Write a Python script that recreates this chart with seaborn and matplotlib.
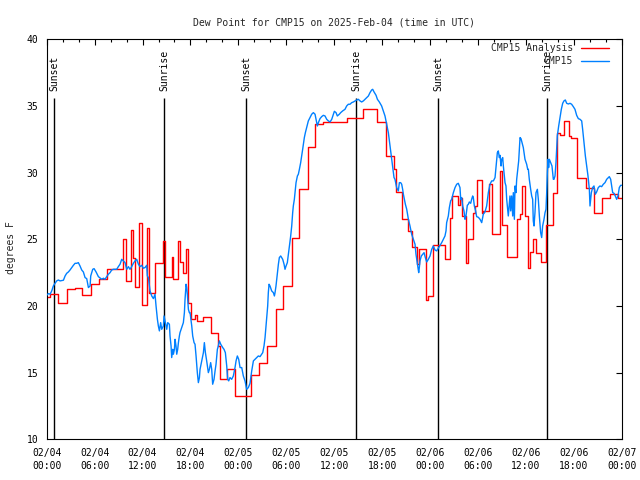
import numpy as np
import pandas as pd
import matplotlib
matplotlib.use("Agg")
import matplotlib.pyplot as plt
import matplotlib.dates as mdates
import seaborn as sns

sns.set_theme(style="white")
plt.rcParams["font.family"] = ["DejaVu Sans Mono"]

# hourly analysis (step series): hours after 2025-02-04 00:00 UTC, degrees F
red_hours = [0.0, 0.42, 1.46, 2.50, 3.55, 4.47, 5.51, 6.55, 7.60, 9.60,
             9.93, 10.56, 10.86, 11.06, 11.56, 11.90, 12.52, 12.86, 13.56, 14.61,
             14.82, 15.65, 15.86, 16.49, 16.69, 17.03, 17.50, 17.74, 18.03, 18.57,
             18.78, 19.53, 20.53, 21.49, 21.70, 22.54, 23.58, 25.60, 26.59, 27.63,
             28.67, 29.63, 30.68, 31.64, 32.68, 33.60, 34.64, 37.56, 38.61, 39.65,
             41.40, 42.49, 43.49, 43.74, 44.53, 45.28, 45.70, 46.33, 46.62, 47.50,
             47.70, 48.41, 49.87, 50.50, 50.79, 51.54, 51.75, 51.96, 52.50, 52.71,
             53.42, 53.63, 53.92, 54.47, 54.67, 55.38, 55.72, 56.76, 56.97, 57.60,
             58.85, 59.27, 59.56, 59.89, 60.31, 60.52, 60.93, 61.27, 61.85, 62.52,
             63.44, 63.94, 64.27, 64.77, 65.40, 65.61, 66.44, 67.49, 68.53, 69.49,
             70.53, 71.58, 72.0]
red_vals = [20.67, 20.93, 20.25, 21.25, 21.35, 20.85, 21.68, 22.0, 22.75, 25.05,
            21.85, 25.72, 23.6, 21.45, 26.2, 20.05, 25.83, 21.0, 23.2, 24.9,
            22.15, 23.7, 22.02, 24.9, 23.3, 22.45, 24.3, 20.25, 19.0, 19.3,
            18.9, 19.2, 18.0, 17.0, 14.5, 15.3, 13.25, 14.8, 15.75, 17.0,
            19.8, 21.5, 25.13, 28.75, 31.93, 33.63, 33.8, 34.08, 34.13, 34.8,
            33.8, 31.25, 30.3, 28.55, 26.5, 25.63, 24.45, 23.13, 24.3, 20.45,
            20.75, 24.55, 23.5, 26.63, 28.25, 27.55, 28.13, 26.75, 23.25, 25.0,
            27.0, 27.5, 29.43, 27.0, 27.13, 29.13, 25.38, 30.13, 26.08, 23.68,
            26.5, 26.88, 29.0, 26.75, 22.88, 24.08, 25.05, 24.0, 23.3, 26.08,
            28.5, 33.0, 32.8, 33.88, 32.75, 32.63, 29.63, 28.88, 27.0, 28.08,
            28.43, 28.13, 28.13]

# station observations
blue_hours = [0.00, 0.21, 0.42, 0.63, 0.83, 1.04, 1.25, 1.46, 1.67, 2.09,
              2.30, 2.50, 2.71, 2.92, 3.13, 3.34, 3.55, 3.76, 3.96, 4.17,
              4.38, 4.59, 4.80, 5.01, 5.22, 5.43, 5.51, 5.76, 5.93, 6.18,
              6.47, 6.89, 7.10, 7.30, 7.51, 7.72, 7.93, 8.14, 8.35, 8.76,
              8.97, 9.18, 9.39, 9.60, 9.81, 10.02, 10.23, 10.43, 10.64, 10.85,
              11.06, 11.27, 11.48, 11.69, 11.89, 12.10, 12.31, 12.52, 12.60, 12.73,
              12.94, 13.15, 13.36, 13.56, 13.69, 13.86, 13.98, 14.11, 14.27, 14.40,
              14.61, 14.69, 14.82, 14.94, 15.03, 15.15, 15.36, 15.44, 15.57, 15.65,
              15.78, 15.86, 15.99, 16.07, 16.19, 16.28, 16.40, 16.49, 16.61, 16.69,
              16.90, 17.11, 17.24, 17.32, 17.45, 17.53, 17.61, 17.74, 17.86, 17.95,
              18.16, 18.28, 18.45, 18.57, 18.70, 18.86, 18.99, 19.12, 19.20, 19.41,
              19.62, 19.74, 19.87, 20.03, 20.24, 20.37, 20.53, 20.66, 20.78, 20.95,
              21.08, 21.20, 21.37, 21.49, 21.62, 21.79, 22.04, 22.20, 22.37, 22.54,
              22.66, 22.79, 22.95, 23.16, 23.37, 23.58, 23.71, 23.87, 24.04, 24.21,
              24.42, 24.62, 24.83, 25.04, 25.25, 25.46, 25.67, 25.88, 26.08, 26.29,
              26.50, 26.71, 27.05, 27.21, 27.34, 27.46, 27.55, 27.67, 27.75, 27.84,
              27.96, 28.17, 28.38, 28.51, 28.59, 28.71, 28.80, 29.01, 29.13, 29.30,
              29.55, 29.72, 29.84, 29.97, 30.13, 30.26, 30.38, 30.55, 30.68, 30.80,
              30.88, 31.01, 31.09, 31.22, 31.39, 31.51, 31.64, 31.80, 31.93, 32.05,
              32.14, 32.26, 32.39, 32.55, 32.76, 32.97, 33.18, 33.39, 33.60, 33.72,
              33.89, 34.02, 34.22, 34.43, 34.64, 34.85, 35.06, 35.27, 35.48, 35.69,
              35.89, 36.02, 36.23, 36.39, 36.64, 36.81, 37.06, 37.35, 37.56, 37.77,
              37.98, 38.19, 38.40, 38.61, 38.81, 39.02, 39.23, 39.44, 39.65, 39.86,
              40.07, 40.28, 40.48, 40.69, 40.82, 40.99, 41.24, 41.41, 41.65, 41.82,
              41.94, 42.15, 42.36, 42.57, 42.78, 42.99, 43.19, 43.32, 43.49, 43.61,
              43.82, 44.03, 44.16, 44.32, 44.45, 44.57, 44.66, 44.78, 44.91, 45.08,
              45.29, 45.49, 45.70, 45.91, 46.12, 46.24, 46.33, 46.45, 46.58, 46.66,
              46.74, 46.91, 47.08, 47.25, 47.41, 47.58, 47.79, 48.00, 48.21, 48.41,
              48.62, 48.83, 49.08, 49.25, 49.46, 49.67, 49.87, 50.00, 50.08, 50.29,
              50.42, 50.58, 50.71, 50.92, 51.13, 51.34, 51.54, 51.75, 51.84, 51.96,
              52.09, 52.25, 52.38, 52.50, 52.67, 52.80, 52.92, 53.09, 53.21, 53.34,
              53.42, 53.55, 53.71, 53.84, 54.05, 54.26, 54.47, 54.67, 54.88, 55.09,
              55.30, 55.51, 55.72, 55.93, 56.14, 56.26, 56.43, 56.55, 56.68, 56.76,
              56.89, 56.97, 57.10, 57.18, 57.31, 57.39, 57.51, 57.60, 57.72, 57.80,
              57.93, 58.01, 58.10, 58.22, 58.35, 58.43, 58.56, 58.64, 58.76, 58.85,
              58.97, 59.10, 59.18, 59.27, 59.39, 59.52, 59.68, 59.89, 60.10, 60.23,
              60.31, 60.43, 60.60, 60.73, 60.85, 60.93, 61.02, 61.14, 61.27, 61.44,
              61.56, 61.69, 61.85, 61.98, 62.10, 62.27, 62.40, 62.52, 62.60, 62.69,
              62.77, 62.85, 62.94, 63.11, 63.27, 63.44, 63.52, 63.65, 63.77, 63.94,
              64.11, 64.27, 64.44, 64.61, 64.77, 64.94, 65.11, 65.32, 65.53, 65.73,
              65.94, 66.15, 66.36, 66.57, 66.78, 66.99, 67.11, 67.28, 67.45, 67.61,
              67.78, 67.95, 68.03, 68.20, 68.36, 68.53, 68.70, 68.86, 69.07, 69.28,
              69.49, 69.70, 69.91, 70.12, 70.33, 70.45, 70.62, 70.75, 70.87, 71.04,
              71.20, 71.37, 71.54, 71.70, 71.87, 72.00]
blue_vals = [20.80, 20.93, 20.88, 21.13, 21.5, 21.7, 21.88, 21.95, 21.88, 21.93,
             22.25, 22.45, 22.55, 22.7, 22.88, 23.05, 23.2, 23.2, 23.25, 23.0,
             22.7, 22.55, 22.13, 22.05, 21.38, 21.5, 22.25, 22.75, 22.8, 22.55,
             22.2, 22.0, 22.08, 22.0, 22.2, 22.38, 22.5, 22.7, 22.75, 22.75,
             22.95, 23.13, 23.5, 23.38, 23.25, 22.75, 22.95, 22.75, 22.95, 23.2,
             23.38, 23.5, 23.13, 22.95, 23.05, 22.83, 22.88, 23.05, 22.25, 22.13,
             21.13, 20.75, 20.55, 20.88, 20.0, 19.0, 18.5, 18.13, 18.75, 18.25,
             18.5, 19.25, 18.88, 18.5, 18.25, 18.75, 18.63, 17.75, 17.0, 16.13,
             16.75, 16.38, 16.75, 17.5, 17.0, 16.38, 16.75, 17.25, 17.75, 18.0,
             18.38, 18.75, 19.5, 20.5, 21.63, 21.38, 20.88, 19.75, 19.5, 19.5,
             18.5, 17.75, 17.25, 17.13, 16.25, 15.0, 14.25, 14.63, 15.25, 15.88,
             16.5, 17.25, 16.5, 15.88, 15.0, 15.25, 15.75, 15.25, 14.13, 14.5,
             15.13, 15.63, 16.75, 17.0, 17.38, 17.13, 16.88, 16.75, 16.5, 15.5,
             14.5, 14.38, 14.63, 14.5, 14.75, 15.38, 15.88, 16.25, 16.0, 15.38,
             15.38, 14.75, 14.38, 13.75, 13.88, 14.2, 15.13, 15.88, 16.0, 16.13,
             16.25, 16.2, 16.5, 17.0, 17.63, 18.5, 19.25, 20.0, 21.0, 21.63,
             21.5, 21.13, 21.0, 20.75, 21.0, 21.5, 22.0, 23.13, 23.63, 23.75,
             23.5, 23.13, 22.75, 23.0, 23.25, 23.88, 24.5, 25.25, 26.0, 27.0,
             27.5, 28.0, 28.5, 29.25, 29.75, 29.88, 30.25, 30.75, 31.25, 31.75,
             32.13, 32.63, 33.0, 33.38, 33.88, 34.13, 34.38, 34.5, 34.38, 34.0,
             33.5, 33.75, 34.05, 34.2, 34.3, 34.25, 34.0, 33.88, 33.8, 34.0,
             34.38, 34.6, 34.5, 34.25, 34.38, 34.5, 34.63, 34.75, 35.0, 35.13,
             35.13, 35.25, 35.3, 35.38, 35.45, 35.5, 35.38, 35.3, 35.38, 35.5,
             35.63, 35.75, 36.0, 36.2, 36.25, 36.05, 35.8, 35.5, 35.3, 35.13,
             35.0, 34.63, 34.25, 33.63, 33.0, 32.0, 31.0, 30.38, 29.63, 29.5,
             28.88, 28.63, 29.25, 29.25, 29.13, 28.75, 28.38, 28.0, 27.63, 27.25,
             26.5, 26.0, 25.38, 25.0, 24.63, 23.88, 23.5, 23.0, 22.5, 22.88,
             23.38, 23.75, 23.88, 24.0, 23.63, 23.3, 23.5, 23.75, 24.25, 24.5,
             24.2, 24.13, 24.38, 24.55, 24.75, 25.0, 25.25, 25.63, 26.25, 26.75,
             27.38, 27.88, 28.0, 28.5, 28.88, 29.13, 29.2, 28.88, 28.0, 28.13,
             27.5, 27.13, 26.5, 26.75, 27.55, 27.63, 27.8, 27.7, 28.0, 28.25,
             28.13, 27.5, 27.13, 26.7, 26.65, 26.5, 26.25, 26.88, 27.05, 27.5,
             28.5, 29.13, 29.38, 29.38, 29.63, 30.38, 31.5, 31.63, 31.13, 31.3,
             30.5, 31.0, 31.13, 30.5, 29.75, 29.25, 29.0, 28.0, 27.25, 26.75,
             27.63, 28.25, 27.13, 28.25, 26.75, 28.5, 26.5, 29.0, 28.5, 29.5,
             30.13, 30.88, 31.75, 32.63, 32.55, 32.25, 31.88, 31.0, 30.63, 30.25,
             30.25, 29.5, 28.75, 28.25, 28.0, 26.38, 26.0, 27.0, 28.5, 28.75,
             28.0, 26.75, 25.5, 25.13, 26.0, 26.5, 27.0, 27.25, 28.38, 30.0,
             31.0, 30.38, 31.0, 30.75, 30.5, 29.5, 29.5, 29.75, 30.75, 32.75,
             33.5, 34.13, 34.75, 35.2, 35.38, 35.45, 35.2, 35.15, 35.2, 35.13,
             34.95, 34.75, 34.3, 34.05, 34.0, 33.88, 33.25, 32.25, 31.25, 30.5,
             29.75, 28.75, 27.5, 28.5, 28.88, 29.0, 28.38, 28.55, 28.88, 29.0,
             28.95, 29.13, 29.25, 29.5, 29.63, 29.7, 29.5, 29.0, 28.5, 28.45,
             28.25, 28.0, 28.25, 28.88, 29.05, 29.05]

sun_hours = [0.95, 14.73, 24.97, 38.74, 49.02, 62.70]
sun_labels = ["Sunset", "Sunrise", "Sunset", "Sunrise", "Sunset", "Sunrise"]

start = pd.Timestamp("2025-02-04 00:00")
red_df = pd.DataFrame({"time": start + pd.to_timedelta(red_hours, unit="h"), "dewpt": red_vals})
blue_df = pd.DataFrame({"time": start + pd.to_timedelta(blue_hours, unit="h"), "dewpt": blue_vals})
sun_times = start + pd.to_timedelta(sun_hours, unit="h")

fig = plt.figure(figsize=(6.4, 4.8), dpi=100)
ax = fig.add_axes([0.073, 0.0848, 0.8984, 0.8333])

# sunrise / sunset markers
ax.vlines(sun_times, 10, 35.6, color="black", lw=1.0, zorder=1)
for t, lab in zip(sun_times, sun_labels):
    ax.text(t, 36.1, lab, rotation=90, ha="center", va="bottom", fontsize=7, color="black")

sns.lineplot(data=red_df, x="time", y="dewpt", color="#ff0000", lw=1.0,
             drawstyle="steps-post", label="CMP15 Analysis", errorbar=None, ax=ax, zorder=2)
sns.lineplot(data=blue_df, x="time", y="dewpt", color="#0080ff", lw=1.0,
             label="CMP15", errorbar=None, ax=ax, zorder=3)

ax.set_xlim(start, start + pd.Timedelta(hours=72))
ax.set_ylim(10, 40)
ax.set_yticks(np.arange(10, 41, 5))
ax.xaxis.set_major_locator(mdates.HourLocator(byhour=[0, 6, 12, 18]))
ax.xaxis.set_minor_locator(mdates.HourLocator(byhour=range(0, 24, 2)))
ax.xaxis.set_major_formatter(mdates.DateFormatter("%m/%d\n%H:%M"))

ax.tick_params(which="both", direction="in", top=True, right=True, colors="black",
               labelsize=7, width=0.8)
ax.tick_params(which="major", length=4.5, pad=6)
ax.tick_params(which="minor", length=2.5)
for s in ax.spines.values():
    s.set_visible(True)
    s.set_color("black")
    s.set_linewidth(0.8)
ax.grid(False)

ax.set_xlabel("")
ax.set_ylabel("degrees F", fontsize=7)
ax.yaxis.set_label_coords(-0.053, 0.48)
ax.set_title("Dew Point for CMP15 on 2025-Feb-04 (time in UTC)", fontsize=7, pad=10)

ax.legend(loc="upper right", bbox_to_anchor=(0.978, 0.99), frameon=False, markerfirst=False,
          handlelength=2.9, handletextpad=0.8, borderpad=0, borderaxespad=0,
          labelspacing=0.3, fontsize=7)

fig.canvas.draw()
for lab in ax.get_xticklabels():
    lab.set_linespacing(1.4)

fig.savefig("out.png", dpi=100, facecolor="white")
